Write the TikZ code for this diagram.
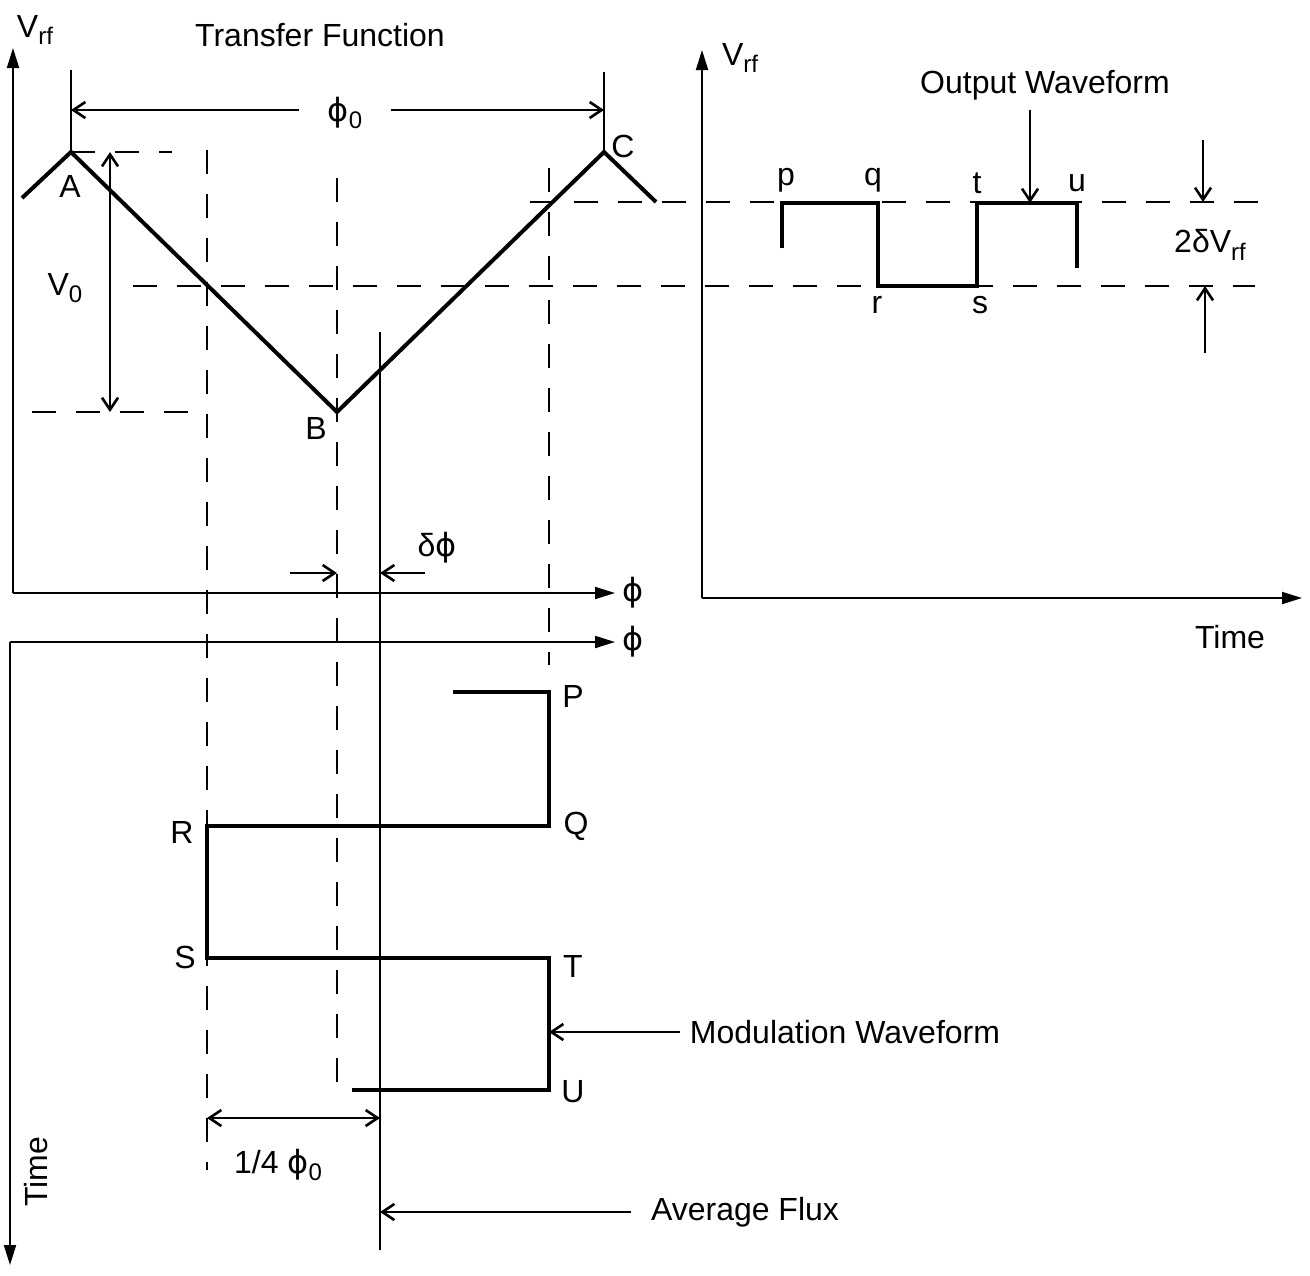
\documentclass[tikz,border=0pt]{standalone}
\usepackage{fontspec}
\setmainfont{Liberation Sans}
\newfontfamily\phifont{DejaVu Sans}
\usepackage{tikz}
\usetikzlibrary{arrows.meta,positioning,calc}

\newcommand{\lowsub}[1]{\raisebox{-0.45ex}{\fontsize{12}{12}\selectfont #1}}
\newcommand{\fluxsym}{{\phifont ϕ}}

\begin{document}
\begin{tikzpicture}[x=0.5pt,y=-0.5pt,>=Latex,
  every node/.style={inner sep=1pt,font=\fontsize{16}{19}\selectfont},
  axis/.style={line width=1pt,-{Triangle[length=10pt,width=6pt]}},
  wave/.style={line width=2pt,line join=miter},
  guide/.style={line width=1pt,dash pattern=on 12pt off 10pt},
  pointer/.style={line width=1pt,-{Straight Barb[length=6pt,width=8pt,line width=1.3pt]}},
  dim/.style={line width=1pt,{Straight Barb[length=6pt,width=8pt,line width=1.3pt]}-{Straight Barb[length=6pt,width=8pt,line width=1.3pt]}}]
  \useasboundingbox (0,0) rectangle (1310,1275);

  % axes
  \coordinate (o1) at (13,593);
  \coordinate (o2) at (10,642);
  \coordinate (o3) at (702,598);
  \draw[axis] (o1) -- (13,48) coordinate (y1);
  \draw[axis] (o1) -- (615,593) coordinate (x1);
  \draw[axis] (o2) -- (615,642) coordinate (x2);
  \draw[axis] (o2) -- (10,1265) coordinate (t2);
  \draw[axis] (o3) -- (702,50) coordinate (y3);
  \draw[axis] (o3) -- (1302,598) coordinate (x3);
  \node (vrfa) at (35,30) {V\lowsub{rf}};
  \node (title) at (320,35) {Transfer Function};
  \node (phia) at (633,593) {\fluxsym};
  \node (phib) at (633,642) {\fluxsym};
  \node[rotate=90] (timea) at (36,1172) {Time};
  \node (vrfb) at (740,58) {V\lowsub{rf}};
  \node (timeb) at (1230,637) {Time};

  % transfer function
  \coordinate (w0) at (22,198);
  \coordinate (A) at (71,152);
  \coordinate (B) at (337,412);
  \coordinate (C) at (604,152);
  \coordinate (w1) at (656,202);
  \node (la) at (70,186) {A};
  \node (lb) at (316,428) {B};
  \node (lc) at (623,146) {C};

  % guide lines
  \draw[guide] (A) -- (172,152);
  \draw[guide] (32,412) -- (200,412);
  \draw[guide] (133,286) -- (1255,286);
  \draw[guide] (530,202) -- (1268,202);
  \draw[guide] (207,150) -- (207,1170);
  \draw[guide] (337,178) -- (337,1100);
  \draw[guide] (549,168) -- (549,665);

  \draw[wave] (w0) -- (A) -- (B) -- (C) -- (w1);

  % phi_0
  \coordinate (da) at (71,110);
  \coordinate (dc) at (604,110);
  \draw[line width=1pt] (A) -- (71,70);
  \draw[line width=1pt] (C) -- (604,72);
  \node[inner xsep=14pt] (phi0) at (345,113) {\fluxsym\lowsub{0}};
  \draw[pointer] (phi0.west |- da) -- (da);
  \draw[pointer] (phi0.east |- dc) -- (dc);

  % V_0
  \draw[dim] (110,152) coordinate (va) -- (110,412) coordinate (vb);
  \node (v0) at (65,288) {V\lowsub{0}};

  % average flux
  \coordinate (fa) at (380,332);
  \coordinate (fb) at (380,1250);
  \draw[line width=1.3pt] (fa) -- (fb);

  % delta phi
  \draw[pointer] (290,573) -- (337,573) coordinate (dp1);
  \draw[pointer] (425,573) -- (380,573) coordinate (dp2);
  \node (dphi) at (437,548) {δ\fluxsym};

  % modulation waveform
  \coordinate (P0) at (453,692);
  \coordinate (P) at (549,692);
  \coordinate (Q) at (549,826);
  \coordinate (R) at (207,826);
  \coordinate (S) at (207,958);
  \coordinate (T) at (549,958);
  \coordinate (U) at (549,1090);
  \coordinate (U0) at (352,1090);
  \draw[wave] (P0) -- (P) -- (Q) -- (R) -- (S) -- (T) -- (U) -- (U0);
  \node (lP) at (573,696) {P};
  \node (lQ) at (576,826) {Q};
  \node (lR) at (182,832) {R};
  \node (lS) at (185,957) {S};
  \node (lT) at (573,966) {T};
  \node (lU) at (573,1092) {U};

  \node[inner xsep=5pt] (modlbl) at (845,1032) {Modulation Waveform};
  \draw[pointer] (modlbl.west) -- (549,1032) coordinate (mw);
  \node[inner xsep=10pt] (avglbl) at (745,1212) {Average Flux};
  \draw[pointer] (avglbl.west) -- (380,1212) coordinate (af);

  \draw[dim] (207,1118) coordinate (qa) -- (380,1118) coordinate (qb);
  \node (quarter) at (278,1165) {1/4 \fluxsym\lowsub{0}};

  % output waveform
  \coordinate (p) at (782,203);
  \coordinate (q) at (878,203);
  \coordinate (r) at (878,286);
  \coordinate (s) at (977,286);
  \coordinate (t) at (977,203);
  \coordinate (u) at (1077,203);
  \draw[wave] (782,248) -- (p) -- (q) -- (r) -- (s) -- (t) -- (u) -- (1077,268);
  \node (lp) at (786,180) {p};
  \node (lq) at (873,180) {q};
  \node (lr) at (877,305) {r};
  \node (ls) at (980,305) {s};
  \node (lt) at (977,183) {t};
  \node (lu) at (1077,183) {u};

  \node (outlbl) at (1045,85) {Output Waveform};
  \draw[pointer] (1030,110) -- (1030,203) coordinate (ow);

  \draw[pointer] (1203,140) -- (1203,202) coordinate (ga);
  \draw[pointer] (1205,353) -- (1205,286) coordinate (gb);
  \node (gap) at (1210,245) {2δV\lowsub{rf}};
\end{tikzpicture}
\end{document}
